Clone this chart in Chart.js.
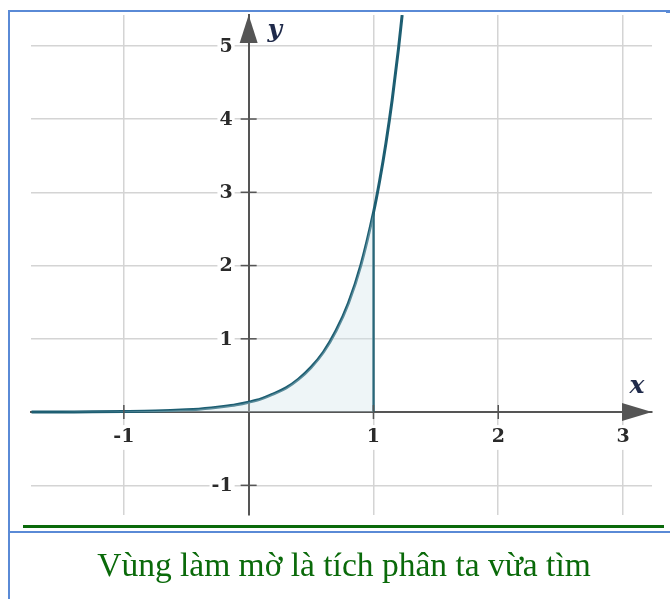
<!DOCTYPE html>
<html>
<head>
<meta charset="utf-8">
<script src="https://cdn.jsdelivr.net/npm/chart.js@4/dist/chart.umd.min.js"></script>
<style>
	html, body { margin: 0; padding: 0; background: #fff; overflow: hidden; }
	#khung { position: relative; width: 670px; height: 599px; }
	#grafico { position: absolute; left: 0; top: 0; }
	.vien { position: absolute; }
	#chuThich {
		position: absolute; left: 0; width: 688px; top: 546px;
		text-align: center; color: #0a6a0a; white-space: nowrap;
		font-family: "Liberation Serif", serif; font-size: 33.5px;
	}
</style>
</head>
<body>
<div id="khung">
	<canvas id="grafico" width="670" height="599"></canvas>
	<div class="vien" style="left:8px; top:10px; width:2px; height:589px; background:#5a8ad6;"></div>
	<div class="vien" style="left:8px; top:10px; width:660px; height:2px; background:#5a8ad6;"></div>
	<div class="vien" style="left:666px; top:10px; width:4px; height:3px; background:#5a8ad6;"></div>
	<div class="vien" style="left:23px; top:525px; width:641px; height:3px; background:#0a6a0a;"></div>
	<div class="vien" style="left:8px; top:531px; width:662px; height:2px; background:#5a8ad6;"></div>
	<div id="chuThich">Vùng làm mờ là tích phân ta vừa tìm</div>
</div>
<script>
// gia tri doc tu hinh
var xCong = [-1.74, -1.5, -1.25, -1, -0.75, -0.5, -0.4, -0.3, -0.2, -0.1, 0, 0.1, 0.2, 0.3, 0.4, 0.5, 0.6, 0.7, 0.8, 0.9, 1, 1.05, 1.1, 1.15, 1.2, 1.23];
var yCong = [0, 0.002, 0.003, 0.007, 0.014, 0.03, 0.04, 0.055, 0.075, 0.1, 0.135, 0.18, 0.25, 0.33, 0.45, 0.61, 0.82, 1.11, 1.49, 2.01, 2.72, 3.16, 3.67, 4.26, 4.95, 5.42];
var canTren = 1; // vung to mau tu trai den x = 1
var xTicks = [-1, 1, 2, 3];
var yTicks = [-1, 1, 2, 3, 4, 5];
var xGioiHan = [-1.744, 3.232];
var yGioiHan = [-1.405, 5.42];

var mauCong = '#1d5e72';
var mauTruc = '#555555';
var mauSo = '#2a2a2a';
var fontSo = 'bold 19px "DejaVu Serif", serif';

function diem(xs, ys, max) {
	var lista = [];
	xs.forEach(function(x, i) {
		if (max === undefined || x <= max) lista.push({x: x, y: ys[i]});
	});
	return lista;
}

var yTaiCanTren = yCong[xCong.indexOf(canTren)];

// mui ten, vach chia, nhan truc y, ten truc
var trucPlugin = {
	id: 'truc',
	afterDatasetsDraw: function(chart) {
		var ctx = chart.ctx;
		var sx = chart.scales.x, sy = chart.scales.y;
		var x0 = sx.getPixelForValue(0), y0 = sy.getPixelForValue(0);
		var area = chart.chartArea;
		ctx.save();
		ctx.strokeStyle = mauTruc;
		ctx.lineWidth = 1.5;
		xTicks.forEach(function(v) {
			if (v === 3) return;
			var px = sx.getPixelForValue(v);
			ctx.beginPath(); ctx.moveTo(px, y0 - 7); ctx.lineTo(px, y0 + 7); ctx.stroke();
		});
		yTicks.forEach(function(v) {
			if (v === 5) return;
			var py = sy.getPixelForValue(v);
			ctx.beginPath(); ctx.moveTo(x0 - 8, py); ctx.lineTo(x0 + 8, py); ctx.stroke();
		});

		// nhan truc y, nen trang
		ctx.font = fontSo;
		ctx.textAlign = 'right';
		ctx.textBaseline = 'middle';
		yTicks.forEach(function(v) {
			var py = sy.getPixelForValue(v);
			var txt = String(v);
			var w = ctx.measureText(txt).width;
			ctx.fillStyle = '#fff';
			ctx.fillRect(x0 - 16 - w - 2, py - 11, w + 4, 22);
			ctx.fillStyle = mauSo;
			ctx.fillText(txt, x0 - 16, py + 1);
		});

		ctx.fillStyle = mauTruc;
		// mui ten truc y
		ctx.beginPath();
		ctx.moveTo(x0, area.top);
		ctx.lineTo(x0 - 9, area.top + 28);
		ctx.lineTo(x0 + 9, area.top + 28);
		ctx.closePath(); ctx.fill();
		// mui ten truc x
		ctx.beginPath();
		ctx.moveTo(area.right, y0);
		ctx.lineTo(area.right - 30, y0 - 9);
		ctx.lineTo(area.right - 30, y0 + 9);
		ctx.closePath(); ctx.fill();

		ctx.fillStyle = '#1f2a4a';
		ctx.font = 'italic bold 25px "DejaVu Serif", serif';
		ctx.textAlign = 'center';
		ctx.textBaseline = 'alphabetic';
		ctx.fillText('y', x0 + 26, area.top + 22);
		ctx.fillText('x', area.right - 15, y0 - 19);
		ctx.restore();
	}
};

var grafico = new Chart(document.getElementById('grafico').getContext('2d'), {
	type: 'line',
	data: {
		datasets: [{
			data: diem(xCong, yCong, canTren),
			borderWidth: 0,
			pointRadius: 0,
			cubicInterpolationMode: 'monotone',
			backgroundColor: 'rgba(205, 225, 232, 0.35)',
			fill: 'origin'
		}, {
			data: [{x: canTren, y: 0}, {x: canTren, y: yTaiCanTren}],
			borderColor: mauCong,
			borderWidth: 2.5,
			pointRadius: 0,
			fill: false
		}, {
			data: diem(xCong, yCong),
			borderColor: mauCong,
			borderWidth: 3,
			pointRadius: 0,
			cubicInterpolationMode: 'monotone',
			fill: false
		}]
	},
	options: {
		responsive: false,
		animation: false,
		layout: { padding: { left: 31, right: 18, top: 15, bottom: 84 } },
		plugins: { legend: { display: false }, tooltip: { enabled: false } },
		scales: {
			x: {
				type: 'linear',
				position: { y: 0 },
				min: xGioiHan[0], max: xGioiHan[1],
				afterBuildTicks: function(scale) {
					scale.ticks = xTicks.map(function(v) { return {value: v}; });
				},
				grid: { color: '#d4d4d4', lineWidth: 1.5, drawTicks: false },
				border: { display: true, color: mauTruc, width: 2 },
				ticks: {
					padding: 14,
					color: mauSo,
					font: { family: '"DejaVu Serif", serif', size: 19, weight: 'bold' },
					showLabelBackdrop: true,
					backdropColor: '#fff',
					backdropPadding: 1
				}
			},
			y: {
				type: 'linear',
				position: { x: 0 },
				min: yGioiHan[0], max: yGioiHan[1],
				afterBuildTicks: function(scale) {
					scale.ticks = yTicks.map(function(v) { return {value: v}; });
				},
				grid: { color: '#d4d4d4', lineWidth: 1.5, drawTicks: false },
				border: { display: true, color: mauTruc, width: 2 },
				ticks: { display: false }
			}
		}
	},
	plugins: [trucPlugin]
});
</script>
</body>
</html>
